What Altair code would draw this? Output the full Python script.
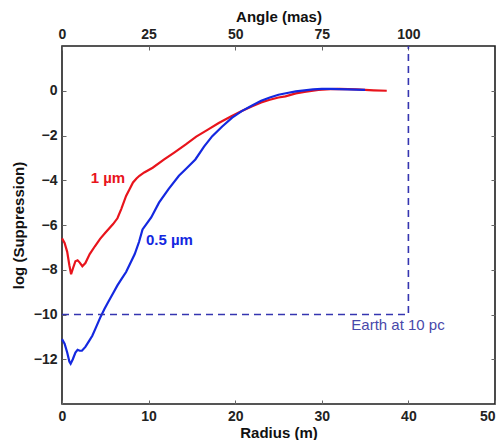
import altair as alt
import pandas as pd

# ---- data ----
r_1um = [0, 0.3, 0.6, 0.85, 1.05, 1.3, 1.55, 1.8, 2.05, 2.35, 2.7, 3.2, 3.8, 4.4, 5.0, 5.9,
         6.4, 6.84, 7.4, 7.8, 8.2, 8.6, 8.94, 9.5, 10.47, 11.8, 13, 14.3, 15.5, 16.8, 18.1,
         19.5, 20.7, 21.9, 23, 24, 25, 25.8, 27, 28, 29, 29.6, 31, 32, 33, 34, 35, 36, 37.5]
v_1um = [-6.6, -6.8, -7.2, -7.8, -8.2, -7.9, -7.62, -7.58, -7.68, -7.84, -7.7, -7.3, -6.95,
         -6.62, -6.35, -5.96, -5.7, -5.29, -4.7, -4.4, -4.1, -3.92, -3.8, -3.65, -3.44, -3.07,
         -2.75, -2.4, -2.05, -1.75, -1.44, -1.15, -0.92, -0.7, -0.52, -0.4, -0.3, -0.25, -0.12,
         -0.05, 0.0, 0.04, 0.07, 0.08, 0.07, 0.06, 0.04, 0.02, 0.0]

r_05um = [0, 0.3, 0.6, 0.85, 1.0, 1.25, 1.55, 1.8, 2.05, 2.3, 2.7, 3.1, 3.5, 3.9, 4.4, 4.9,
          5.4, 5.9, 6.4, 6.9, 7.4, 7.9, 8.4, 8.9, 9.3, 10.3, 11.2, 12.3, 13.5, 14.3, 15.4,
          16.4, 17.35, 18.5, 19.65, 20.8, 21.9, 23, 24, 25, 26, 27, 28, 29, 30, 31, 32, 33, 34, 35]
v_05um = [-11.1, -11.3, -11.7, -12.1, -12.2, -12.0, -11.7, -11.58, -11.62, -11.62, -11.45,
          -11.2, -10.95, -10.6, -10.15, -9.75, -9.4, -9.05, -8.7, -8.4, -8.1, -7.7, -7.3,
          -6.75, -6.2, -5.66, -5.0, -4.4, -3.8, -3.5, -3.07, -2.5, -2.03, -1.6, -1.2, -0.9,
          -0.67, -0.45, -0.3, -0.18, -0.1, -0.03, 0.02, 0.06, 0.08, 0.08, 0.07, 0.06, 0.05, 0.04]

series_names = ["1 \u00b5m", "0.5 \u00b5m"]
series_colors = ["#e8141c", "#1428e0"]

earth_r = [0, 40, 40]
earth_v = [-10, -10, 2]
earth_label = "Earth at 10 pc"

x_ticks = [0, 10, 20, 30, 40, 50]
y_ticks = [0, -2, -4, -6, -8, -10, -12]
angle_ticks = [0, 25, 50, 75, 100]

x_domain = [0, 50]
y_domain = [-14, 2]
angle_domain = [0, 125]

# label anchor positions (data coordinates)
label_r = [5.3, 12.4]
label_v = [-3.9, -6.65]
earth_label_r = [38.8]
earth_label_v = [-10.48]

# ---- build tables ----
curves = pd.concat([
    pd.DataFrame({"r": r_1um, "v": v_1um, "series": series_names[0]}),
    pd.DataFrame({"r": r_05um, "v": v_05um, "series": series_names[1]}),
])
earth = pd.DataFrame({"r": earth_r, "v": earth_v, "i": list(range(len(earth_r)))})
labels = pd.DataFrame({"r": label_r, "v": label_v, "text": series_names, "series": series_names})
earth_lab = pd.DataFrame({"r": earth_label_r, "v": earth_label_v, "text": [earth_label]})
xt = pd.DataFrame({"t": x_ticks})
yt = pd.DataFrame({"t": y_ticks})
at = pd.DataFrame({"t": angle_ticks})

FONT = "Liberation Sans"
xs = alt.Scale(domain=x_domain, nice=False, zero=False)
ys = alt.Scale(domain=y_domain, nice=False, zero=False)
as_ = alt.Scale(domain=angle_domain, nice=False, zero=False)
cs = alt.Scale(domain=series_names, range=series_colors)

lab_axis = dict(labelFont=FONT, labelFontWeight="bold", labelFontSize=14, labelColor="#222",
                titleFont=FONT, titleFontWeight="bold", titleFontSize=15, titleColor="#111",
                ticks=False, domain=False, grid=False, labelFlush=False)

last_x = x_ticks[-1]
bottom_align = {"condition": {"test": f"datum.value >= {last_x}", "value": "right"},
                "value": "center"}

lines = alt.Chart(curves).mark_line(strokeWidth=2.2).encode(
    x=alt.X("r:Q", scale=xs, axis=alt.Axis(orient="bottom", values=x_ticks, title="Radius (m)",
                                            labelPadding=5, titlePadding=2,
                                            labelAlign=bottom_align, **lab_axis)),
    y=alt.Y("v:Q", scale=ys, axis=alt.Axis(orient="left", values=y_ticks, title="log (Suppression)",
                                            labelPadding=5, titlePadding=7, **lab_axis)),
    color=alt.Color("series:N", scale=cs, legend=None),
)

earth_line = alt.Chart(earth).mark_line(strokeWidth=1.6, strokeDash=[7, 5], color="#3535b0").encode(
    x=alt.X("r:Q", scale=xs, axis=None),
    y=alt.Y("v:Q", scale=ys, axis=None),
    order=alt.Order("i:Q"),
)

series_text = alt.Chart(labels).mark_text(font=FONT, fontWeight="bold", fontSize=15).encode(
    x=alt.X("r:Q", scale=xs, axis=None),
    y=alt.Y("v:Q", scale=ys, axis=None),
    text="text:N",
    color=alt.Color("series:N", scale=cs, legend=None),
)

earth_text = alt.Chart(earth_lab).mark_text(font=FONT, fontSize=15, color="#4848aa").encode(
    x=alt.X("r:Q", scale=xs, axis=None),
    y=alt.Y("v:Q", scale=ys, axis=None),
    text="text:N",
)

tick_axis = dict(labels=False, domain=False, grid=False, title=None, offset=-4, tickSize=4,
                 tickColor="#666", tickWidth=1)

bottom_ticks = alt.Chart(xt).mark_point(opacity=0).encode(
    x=alt.X("t:Q", scale=xs, axis=alt.Axis(orient="bottom", values=x_ticks, **tick_axis)))
left_ticks = alt.Chart(yt).mark_point(opacity=0).encode(
    y=alt.Y("t:Q", scale=ys, axis=alt.Axis(orient="left", values=y_ticks, **tick_axis)))
right_ticks = alt.Chart(yt).mark_point(opacity=0).encode(
    y=alt.Y("t:Q", scale=ys, axis=alt.Axis(orient="right", values=y_ticks, **tick_axis)))
top_ticks = alt.Chart(at).mark_point(opacity=0).encode(
    x=alt.X("t:Q", scale=as_, axis=alt.Axis(orient="top", values=angle_ticks, **tick_axis)))
top_axis = alt.Chart(at).mark_point(opacity=0).encode(
    x=alt.X("t:Q", scale=as_, axis=alt.Axis(orient="top", values=angle_ticks, title="Angle (mas)",
                                             labelPadding=5, titlePadding=3, **lab_axis)))

chart = alt.layer(
    lines, earth_line, series_text, earth_text,
    bottom_ticks, left_ticks, right_ticks, top_ticks, top_axis,
).resolve_scale(x="independent", y="independent", color="shared").properties(
    width=433, height=358,
    background="white",
    autosize=alt.AutoSizeParams(type="none"),
    padding={"left": 54, "top": 38, "right": 1, "bottom": 36},
).configure_view(stroke="#1e1e1e", strokeWidth=1.6)

chart.save("out.html", embed_options={"renderer": "svg", "actions": False})
